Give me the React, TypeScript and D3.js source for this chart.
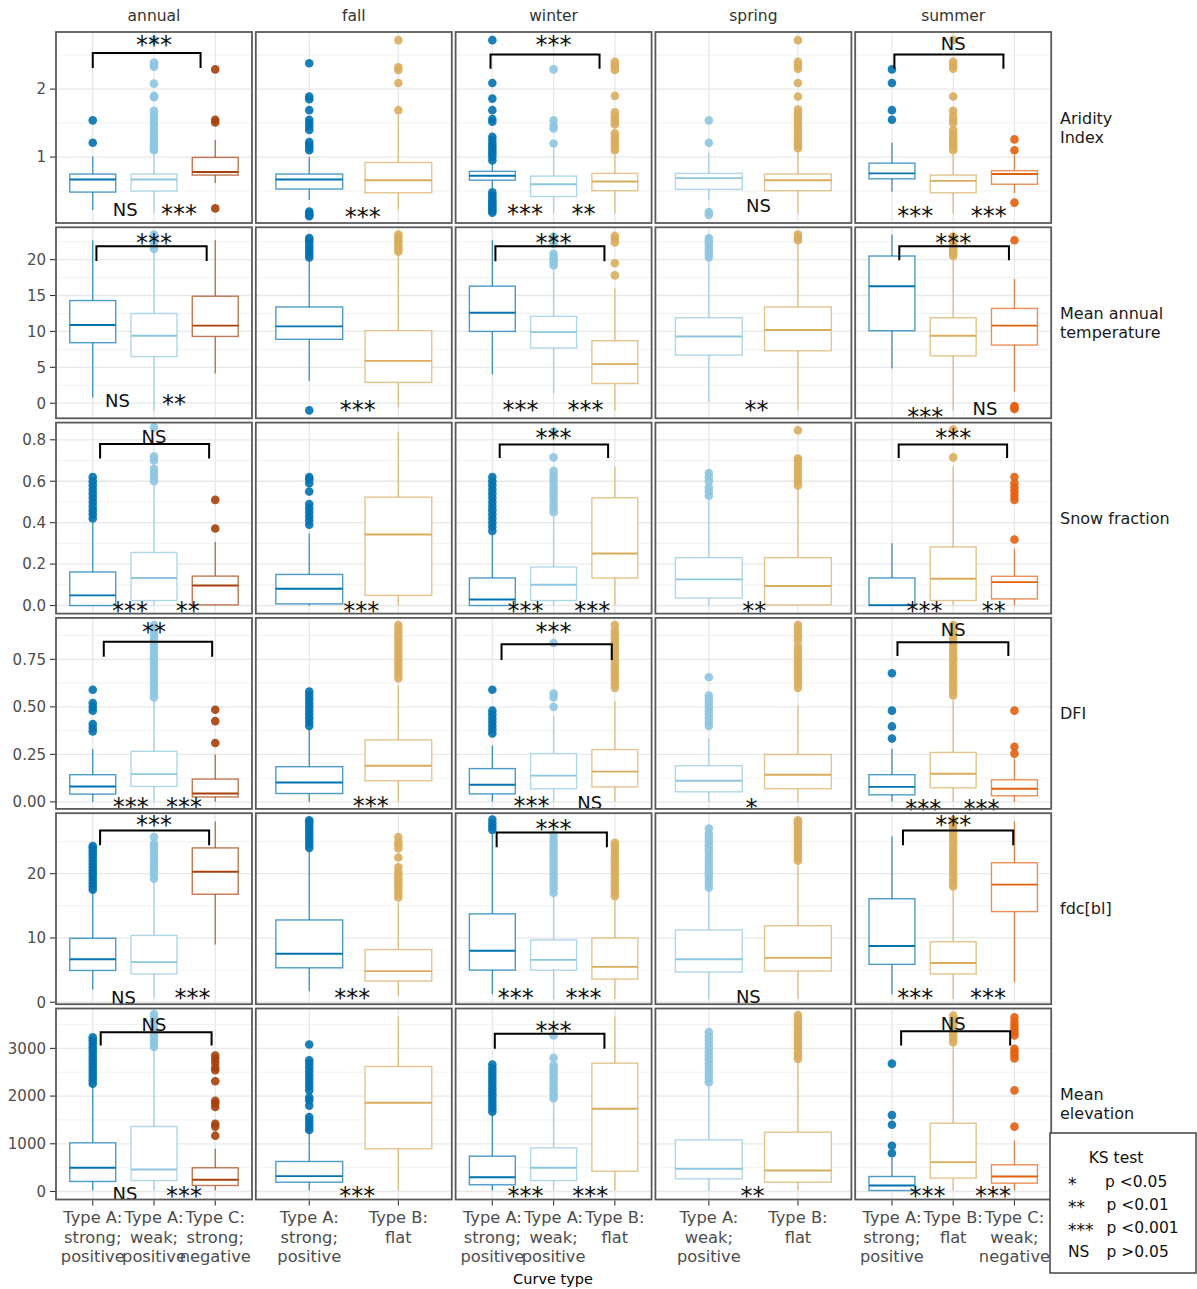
import * as d3 from "d3";
import { useEffect, useRef } from "react";

// facets
const seasons = ["annual", "fall", "winter", "spring", "summer"];
const variables = [["Aridity", "Index"], ["Mean annual", "temperature"], ["Snow fraction"], ["DFI"], ["fdc[bl]"], ["Mean", "elevation"]];

const seasonTypes = [
  ["A_strong", "A_weak", "C_strong"],
  ["A_strong", "B_flat"],
  ["A_strong", "A_weak", "B_flat"],
  ["A_weak", "B_flat"],
  ["A_strong", "B_flat", "C_weak"],
];

const typeLabels: Record<string, string[]> = {
  A_strong: ["Type A:", "strong;", "positive"],
  A_weak: ["Type A:", "weak;", "positive"],
  B_flat: ["Type B:", "flat"],
  C_strong: ["Type C:", "strong;", "negative"],
  C_weak: ["Type C:", "weak;", "negative"],
};

const typeColors: Record<string, string> = {
  A_strong: "#0072B2",
  A_weak: "#8EC6E0",
  B_flat: "#D9AD5C",
  C_strong: "#A6400C",
  C_weak: "#E3600E",
};

// y axes per row
const yDomains = [[0.03, 2.84], [-2.1, 24.5], [-0.039, 0.883], [-0.037, 0.968], [-0.3, 29.4], [-168, 3836]];
const yTicks = [[1, 2], [0, 5, 10, 15, 20], [0, 0.2, 0.4, 0.6, 0.8], [0, 0.25, 0.5, 0.75], [0, 10, 20], [0, 1000, 2000, 3000]];
const yMinor = [[0.5, 1.5, 2.5], [2.5, 7.5, 12.5, 17.5, 22.5], [0.1, 0.3, 0.5, 0.7], [0.125, 0.375, 0.625, 0.875], [5, 15, 25], [500, 1500, 2500, 3500]];
const yFormats = ["d", "d", ".1f", ".2f", "d", "d"];

// box stats: [lower whisker, q1, median, q3, upper whisker], per season, per type
const aridityStats = [
  [[0.22, 0.485, 0.67, 0.75, 1.01], [0.18, 0.5, 0.67, 0.75, 1.08], [0.62, 0.735, 0.78, 0.995, 1.25]],
  [[0.37, 0.53, 0.67, 0.75, 1.0], [0.22, 0.475, 0.66, 0.92, 1.62]],
  [[0.54, 0.66, 0.725, 0.79, 0.9], [0.18, 0.42, 0.6, 0.72, 1.13], [0.17, 0.505, 0.64, 0.76, 1.03]],
  [[0.37, 0.525, 0.69, 0.76, 1.06], [0.17, 0.505, 0.66, 0.75, 1.1]],
  [[0.49, 0.68, 0.76, 0.91, 1.21], [0.17, 0.475, 0.65, 0.735, 1.05], [0.47, 0.6, 0.75, 0.8, 1.03]],
];
const aridityOutliers = [
  [[1.21, 1.54], [1.1, 1.13, 1.17, 1.2, 1.24, 1.28, 1.32, 1.37, 1.42, 1.47, 1.52, 1.57, 1.62, 1.68, 1.88, 1.9, 2.08, 2.33, 2.36, 2.39, 2.72], [0.245, 1.51, 1.55, 2.29]],
  [[0.13, 0.15, 0.17, 0.2, 1.1, 1.14, 1.18, 1.22, 1.4, 1.45, 1.5, 1.55, 1.69, 1.85, 1.89, 2.38], [1.69, 2.09, 2.28, 2.32, 2.72]],
  [[0.18, 0.21, 0.24, 0.27, 0.3, 0.33, 0.36, 0.4, 0.44, 0.48, 0.95, 1.0, 1.04, 1.08, 1.12, 1.16, 1.2, 1.25, 1.3, 1.52, 1.56, 1.69, 1.86, 2.09, 2.72], [1.2, 1.42, 1.46, 1.54, 2.29], [1.1, 1.15, 1.2, 1.25, 1.3, 1.35, 1.48, 1.52, 1.56, 1.6, 1.66, 1.9, 2.28, 2.32, 2.36, 2.4]],
  [[0.15, 0.19, 1.21, 1.54], [1.13, 1.17, 1.21, 1.26, 1.3, 1.34, 1.4, 1.45, 1.5, 1.55, 1.6, 1.65, 1.7, 1.89, 2.09, 2.3, 2.35, 2.4, 2.72]],
  [[1.55, 1.69, 2.09, 2.29], [1.1, 1.14, 1.18, 1.22, 1.26, 1.3, 1.35, 1.4, 1.5, 1.55, 1.6, 1.68, 1.89, 2.3, 2.35, 2.4, 2.72], [0.33, 1.1, 1.26]],
];

const tempStats = [
  [[0.8, 8.43, 10.9, 14.3, 22.7], [-1.0, 6.5, 9.4, 12.5, 21.2], [4.15, 9.3, 10.8, 14.9, 22.7]],
  [[3.1, 8.9, 10.7, 13.4, 20.1], [-0.5, 2.9, 5.9, 10.1, 20.9]],
  [[4.0, 10.0, 12.6, 16.3, 22.7], [1.35, 7.7, 9.9, 12.1, 18.6], [-1.0, 2.75, 5.45, 8.7, 16.0]],
  [[0.2, 6.7, 9.3, 11.9, 20.0], [-1.0, 7.3, 10.2, 13.4, 22.4]],
  [[4.85, 10.1, 16.3, 20.5, 23.5], [-1.0, 6.6, 9.4, 11.9, 20.2], [1.6, 8.1, 10.8, 13.2, 17.3]],
];
const tempOutliers = [
  [[], [21.5, 22, 22.5, 23, 23.5], []],
  [[-1.0, 20.3, 20.7, 21.1, 21.5, 21.9, 22.3, 22.7, 23.0], [21.1, 21.5, 21.9, 22.3, 22.7, 23.1, 23.5]],
  [[], [19.2, 19.6, 20.0, 20.4, 20.8, 22.2, 22.7, 23.2], [17.8, 19.5, 22.4, 22.9, 23.3]],
  [[20.3, 20.7, 21.1, 21.5, 21.9, 22.3, 22.7, 23.0], [22.7, 23.1, 23.5]],
  [[], [20.5, 20.9, 21.3, 21.7, 22.1, 22.5, 22.9, 23.2], [-0.4, -0.6, -0.8, 22.7]],
];

const snowStats = [
  [[0, 0, 0.049, 0.162, 0.4], [0, 0.024, 0.133, 0.256, 0.59], [0, 0.003, 0.097, 0.142, 0.307]],
  [[0, 0.008, 0.081, 0.15, 0.348], [0, 0.049, 0.343, 0.523, 0.84]],
  [[0, 0, 0.029, 0.133, 0.34], [0, 0.024, 0.1, 0.186, 0.43], [0, 0.133, 0.251, 0.52, 0.67]],
  [[0, 0.036, 0.126, 0.231, 0.513], [0, 0.003, 0.094, 0.231, 0.566]],
  [[0, 0, 0.002, 0.133, 0.3], [0, 0.024, 0.129, 0.283, 0.671], [0, 0.032, 0.113, 0.141, 0.275]],
];
const snowOutliers = [
  [[0.42, 0.44, 0.46, 0.48, 0.5, 0.52, 0.54, 0.56, 0.58, 0.6, 0.62], [0.6, 0.62, 0.64, 0.66, 0.7, 0.72, 0.86], [0.372, 0.51]],
  [[0.39, 0.41, 0.43, 0.45, 0.47, 0.49, 0.55, 0.59, 0.61, 0.62], []],
  [[0.36, 0.38, 0.4, 0.42, 0.44, 0.46, 0.48, 0.5, 0.52, 0.54, 0.56, 0.58, 0.6, 0.62], [0.45, 0.47, 0.49, 0.51, 0.53, 0.55, 0.57, 0.59, 0.61, 0.63, 0.65, 0.715, 0.84], []],
  [[0.53, 0.55, 0.57, 0.6, 0.62, 0.64], [0.58, 0.6, 0.62, 0.64, 0.66, 0.68, 0.7, 0.71, 0.846]],
  [[], [0.715, 0.85], [0.319, 0.51, 0.53, 0.55, 0.57, 0.59, 0.62]],
];

const dfiStats = [
  [[0, 0.041, 0.081, 0.143, 0.278], [0, 0.081, 0.146, 0.266, 0.54], [0, 0.026, 0.044, 0.12, 0.249]],
  [[0, 0.044, 0.102, 0.185, 0.385], [0, 0.111, 0.19, 0.326, 0.614]],
  [[0, 0.042, 0.09, 0.175, 0.296], [0, 0.069, 0.138, 0.254, 0.45], [0, 0.079, 0.159, 0.275, 0.53]],
  [[0, 0.053, 0.111, 0.19, 0.333], [0, 0.069, 0.143, 0.249, 0.508]],
  [[0, 0.037, 0.079, 0.143, 0.28], [0, 0.074, 0.148, 0.26, 0.534], [0, 0.032, 0.069, 0.116, 0.228]],
];
const dfiOutliers = [
  [[0.37, 0.39, 0.41, 0.48, 0.5, 0.52, 0.59], [0.55, 0.57, 0.59, 0.61, 0.63, 0.65, 0.67, 0.69, 0.71, 0.73, 0.75, 0.77, 0.79, 0.81, 0.83, 0.85, 0.87, 0.89, 0.91, 0.93], [0.31, 0.425, 0.485]],
  [[0.4, 0.42, 0.44, 0.46, 0.48, 0.5, 0.52, 0.54, 0.56, 0.58], [0.65, 0.67, 0.69, 0.71, 0.73, 0.75, 0.77, 0.79, 0.81, 0.83, 0.85, 0.87, 0.89, 0.91, 0.93]],
  [[0.36, 0.38, 0.4, 0.42, 0.44, 0.46, 0.48, 0.59], [0.5, 0.55, 0.57, 0.836], [0.6, 0.62, 0.64, 0.66, 0.68, 0.7, 0.72, 0.74, 0.76, 0.78, 0.8, 0.82, 0.84, 0.86, 0.88, 0.9, 0.93]],
  [[0.4, 0.42, 0.44, 0.46, 0.48, 0.5, 0.52, 0.54, 0.56, 0.656], [0.6, 0.62, 0.64, 0.66, 0.68, 0.7, 0.72, 0.74, 0.76, 0.78, 0.8, 0.82, 0.85, 0.87, 0.89, 0.91, 0.93]],
  [[0.333, 0.397, 0.48, 0.677], [0.56, 0.58, 0.6, 0.62, 0.64, 0.66, 0.68, 0.7, 0.72, 0.74, 0.76, 0.78, 0.8, 0.82, 0.84, 0.86, 0.88, 0.9, 0.93], [0.254, 0.29, 0.48]],
];

const fdcStats = [
  [[2.0, 4.95, 6.7, 9.95, 17.3], [0.7, 4.4, 6.25, 10.4, 18.9], [9.0, 16.8, 20.3, 24.0, 28.1]],
  [[1.7, 5.36, 7.55, 12.8, 23.6], [0.94, 3.3, 4.85, 8.2, 15.5]],
  [[1.25, 5.0, 8.0, 13.75, 26.2], [0.5, 5.0, 6.6, 9.7, 16.6], [0.5, 3.6, 5.5, 10.0, 15.8]],
  [[0.5, 4.7, 6.7, 11.25, 17.3], [0.5, 4.85, 6.9, 11.9, 21.25]],
  [[1.25, 5.9, 8.75, 16.1, 25.8], [0.5, 4.4, 6.1, 9.4, 17.3], [3.1, 14.1, 18.3, 21.7, 28.1]],
];
const fdcOutliers = [
  [[17.5, 18, 18.5, 19, 19.5, 20, 20.5, 21, 21.5, 22, 22.5, 23, 23.5, 24, 24.3], [19.2, 19.7, 20.2, 20.7, 21.2, 21.7, 22.2, 22.7, 23.2, 23.7, 24.2, 24.7, 25.7], []],
  [[24, 24.5, 25, 25.5, 26, 26.5, 27, 27.5, 28, 28.3], [16.3, 16.8, 17.3, 17.8, 18.3, 18.8, 19.3, 19.8, 20.3, 21, 22.5, 23.9, 24.4, 24.9, 25.7]],
  [[26.8, 27.3, 27.8, 28.4], [17, 17.6, 18.2, 18.8, 19.4, 20, 20.6, 21.2, 21.8, 22.4, 23, 23.6, 24.2, 24.8, 25.4, 26], [16.5, 17.1, 17.7, 18.3, 18.9, 19.5, 20.1, 20.7, 21.3, 21.9, 22.5, 23.1, 23.7, 24.3, 24.8]],
  [[17.8, 18.4, 19, 19.6, 20.2, 20.8, 21.4, 22, 22.6, 23.2, 23.8, 24.4, 25, 25.6, 26.2, 27], [22, 22.5, 23, 23.5, 24, 24.5, 25, 25.5, 26, 26.5, 27, 27.5, 28, 28.3]],
  [[], [18, 18.6, 19.2, 19.8, 20.4, 21, 21.6, 22.2, 22.8, 23.4, 24, 24.6, 25.2, 25.8, 26.4, 27, 27.6, 28.3], []],
];

const elevStats = [
  [[20, 210, 497, 1020, 2220], [20, 230, 461, 1362, 3025], [20, 126, 245, 497, 895]],
  [[20, 195, 321, 629, 1279], [20, 895, 1859, 2620, 3668]],
  [[20, 140, 300, 740, 1628], [20, 230, 497, 916, 1907], [20, 425, 1733, 2690, 3668]],
  [[20, 266, 476, 1083, 2222], [20, 195, 440, 1243, 2746]],
  [[20, 20, 126, 314, 706], [20, 280, 615, 1432, 3096], [20, 175, 314, 560, 1069]],
];
const elevOutliers = [
  [[2260, 2330, 2400, 2470, 2540, 2610, 2680, 2750, 2820, 2890, 2960, 3030, 3100, 3170, 3230], [3030, 3100, 3170, 3240, 3310, 3380, 3450, 3520, 3590, 3660, 3720], [1170, 1360, 1420, 1770, 1850, 1900, 2310, 2540, 2600, 2700, 2780, 2850]],
  [[1290, 1350, 1420, 1490, 1560, 1800, 1910, 1970, 2120, 2200, 2280, 2360, 2440, 2520, 2600, 2680, 2750, 3080], []],
  [[1670, 1740, 1810, 1880, 1950, 2020, 2090, 2160, 2230, 2300, 2370, 2440, 2510, 2580, 2660], [1950, 2020, 2090, 2160, 2230, 2300, 2370, 2440, 2510, 2580, 2650, 2800, 3270], []],
  [[2290, 2370, 2450, 2530, 2610, 2690, 2770, 2850, 2930, 3010, 3090, 3170, 3250, 3340], [2780, 2850, 2920, 2990, 3060, 3130, 3200, 3270, 3340, 3410, 3480, 3550, 3620, 3700]],
  [[800, 960, 1400, 1600, 2680], [3130, 3200, 3270, 3340, 3410, 3480, 3550, 3620, 3690], [1360, 2120, 2790, 2860, 2930, 2990, 3270, 3340, 3410, 3480, 3560, 3650]],
];

// KS-test brackets (type 1 vs type 3): [x from, x to, y top, y leg end, label, label y]
const aridityBrackets = [[1.0, 2.76, 2.53, 2.31, "***", 2.72], null, [0.97, 2.75, 2.51, 2.3, "***", 2.72], null, [1.04, 2.82, 2.51, 2.3, "NS", 2.67]];
const tempBrackets = [[1.06, 2.86, 21.86, 19.8, "***", 23.0], null, [1.05, 2.83, 21.86, 19.76, "***", 23.0], null, [1.12, 2.91, 21.86, 19.9, "***", 23.0]];
const snowBrackets = [[1.12, 2.9, 0.78, 0.71, "NS", 0.817], null, [1.12, 2.89, 0.777, 0.712, "***", 0.833], null, [1.11, 2.88, 0.777, 0.712, "***", 0.833]];
const dfiBrackets = [[1.18, 2.95, 0.843, 0.763, "**", 0.922], null, [1.15, 2.95, 0.83, 0.746, "***", 0.92], null, [1.09, 2.9, 0.84, 0.767, "NS", 0.905]];
const fdcBrackets = [[1.12, 2.9, 26.7, 24.4, "***", 28.3], null, [1.07, 2.87, 26.4, 24.1, "***", 27.7], null, [1.18, 2.98, 26.7, 24.4, "***", 28.3]];
const elevBrackets = [[1.13, 2.94, 3339, 3060, "NS", 3500], null, [1.04, 2.83, 3305, 2991, "***", 3479], null, [1.15, 2.93, 3360, 3060, "NS", 3515]];

// KS-test labels between neighbouring types: [label, x, y]
const ariditySig = [
  [["NS", 1.53, 0.235], ["***", 2.41, 0.235]], [["***", 1.6, 0.19]], [["***", 1.535, 0.24], ["**", 2.49, 0.24]], [["NS", 1.556, 0.29]], [["***", 1.38, 0.21], ["***", 2.58, 0.21]],
];
const tempSig = [
  [["NS", 1.404, 0.42], ["**", 2.327, 0.56]], [["***", 1.545, -0.28]], [["***", 1.458, -0.28], ["***", 2.52, -0.28]], [["**", 1.534, -0.28]], [["***", 1.543, -1.22], ["NS", 2.52, -0.75]],
];
const snowSig = [
  [["***", 1.61, 0], ["**", 2.55, 0]], [["***", 1.584, 0]], [["***", 1.54, 0], ["***", 2.63, 0]], [["**", 1.51, 0]], [["***", 1.53, 0], ["**", 2.66, 0]],
];
const dfiSig = [
  [["***", 1.62, 0], ["***", 2.49, 0]], [["***", 1.69, 0.005]], [["***", 1.64, 0.005], ["NS", 2.59, -0.005]], [["*", 1.48, -0.005]], [["***", 1.51, -0.01], ["***", 2.46, -0.01]],
];
const fdcSig = [
  [["NS", 1.5, 0.78], ["***", 2.63, 1.45]], [["***", 1.483, 1.45]], [["***", 1.38, 1.4], ["***", 2.49, 1.4]], [["NS", 1.443, 0.94]], [["***", 1.38, 1.4], ["***", 2.57, 1.4]],
];
const elevSig = [
  [["NS", 1.527, -48], ["***", 2.49, 6]], [["***", 1.54, 6]], [["***", 1.54, 6], ["***", 2.6, 6]], [["**", 1.49, 6]], [["***", 1.58, 6], ["***", 2.65, 6]],
];

const legendSymbols = ["*", "**", "***", "NS"];
const legendTexts = ["p <0.05", "p <0.01", "p <0.001", "p >0.05"];

const rows = [
  { stats: aridityStats, out: aridityOutliers, brackets: aridityBrackets, sig: ariditySig },
  { stats: tempStats, out: tempOutliers, brackets: tempBrackets, sig: tempSig },
  { stats: snowStats, out: snowOutliers, brackets: snowBrackets, sig: snowSig },
  { stats: dfiStats, out: dfiOutliers, brackets: dfiBrackets, sig: dfiSig },
  { stats: fdcStats, out: fdcOutliers, brackets: fdcBrackets, sig: fdcSig },
  { stats: elevStats, out: elevOutliers, brackets: elevBrackets, sig: elevSig },
];

const FONT = "'DejaVu Sans', sans-serif";

export default function App() {
  const ref = useRef<SVGSVGElement>(null);

  useEffect(() => {
    const svg = d3.select(ref.current);
    svg.selectAll("*").remove();
    const defs = svg.append("defs");

    const x0 = 56, dx = 199.8, pw = 196;
    const y0 = 32, dy = 195.3, ph = 191;

    // strip labels
    seasons.forEach((s, c) => {
      svg.append("text").attr("x", x0 + c * dx + pw / 2).attr("y", 21)
        .attr("text-anchor", "middle").attr("font-family", FONT).attr("font-size", 15.5)
        .attr("fill", "#333").text(s);
    });

    const sigText = (g: any, label: string, cx: number, cy: number) => {
      const star = label.startsWith("*");
      g.append("text").attr("x", cx).attr("y", star ? cy + 13.2 : cy + 6.5)
        .attr("text-anchor", "middle").attr("font-family", FONT)
        .attr("font-size", star ? 24 : 18)
        .attr("fill", "#111").text(label);
    };

    rows.forEach((row, r) => {
      const top = y0 + r * dy;
      const y = d3.scaleLinear().domain(yDomains[r]).range([top + ph, top]);
      const fmt = d3.format(yFormats[r]);

      // y axis on the left
      yTicks[r].forEach((t) => {
        svg.append("line").attr("x1", 50).attr("x2", 55.5).attr("y1", y(t)).attr("y2", y(t))
          .attr("stroke", "#333").attr("stroke-width", 1.1);
        svg.append("text").attr("x", 46).attr("y", y(t) + 5.3).attr("text-anchor", "end")
          .attr("font-family", FONT).attr("font-size", 15).attr("fill", "#4d4d4d").text(fmt(t));
      });

      // row label
      const lines = variables[r];
      const baseY = top + ph / 2 - (lines.length - 1) * 9.5 + 5.5;
      lines.forEach((ln, i) => {
        svg.append("text").attr("x", 1060).attr("y", baseY + i * 19)
          .attr("font-family", FONT).attr("font-size", 16).attr("fill", "#1a1a1a").text(ln);
      });

      seasons.forEach((_, c) => {
        const left = x0 + c * dx;
        const types = seasonTypes[c];
        const xPos = d3.scalePoint<string>().domain(types).range([left, left + pw]).padding(0.6);
        const xk = d3.scaleLinear().domain([1, types.length]).range([xPos(types[0])!, xPos(types[types.length - 1])!]);
        const bw = xPos.step() * 0.75;

        const clipId = `clip-${r}-${c}`;
        defs.append("clipPath").attr("id", clipId).append("rect")
          .attr("x", left).attr("y", top).attr("width", pw).attr("height", ph);

        const g = svg.append("g");
        g.append("rect").attr("x", left).attr("y", top).attr("width", pw).attr("height", ph).attr("fill", "#fff");

        const grid = g.append("g").attr("clip-path", `url(#${clipId})`);
        yMinor[r].forEach((t) => {
          grid.append("line").attr("x1", left).attr("x2", left + pw).attr("y1", y(t)).attr("y2", y(t))
            .attr("stroke", "#EFEFEF").attr("stroke-width", 0.8);
        });
        yTicks[r].forEach((t) => {
          grid.append("line").attr("x1", left).attr("x2", left + pw).attr("y1", y(t)).attr("y2", y(t))
            .attr("stroke", "#E8E8E8").attr("stroke-width", 1.3);
        });
        types.forEach((t) => {
          grid.append("line").attr("x1", xPos(t)!).attr("x2", xPos(t)!).attr("y1", top).attr("y2", top + ph)
            .attr("stroke", "#E8E8E8").attr("stroke-width", 1.3);
        });

        const plot = g.append("g").attr("clip-path", `url(#${clipId})`);
        types.forEach((t, i) => {
          const [lo, q1, med, q3, hi] = row.stats[c][i];
          const col = typeColors[t];
          const cx = xPos(t)!;
          plot.selectAll(null).data(row.out[c][i]).join("circle")
            .attr("cx", cx).attr("cy", (d: number) => y(d)).attr("r", 4.3)
            .attr("fill", col).attr("fill-opacity", 0.9);
          plot.append("line").attr("x1", cx).attr("x2", cx).attr("y1", y(hi)).attr("y2", y(q3))
            .attr("stroke", col).attr("stroke-opacity", 0.75).attr("stroke-width", 1.3);
          plot.append("line").attr("x1", cx).attr("x2", cx).attr("y1", y(q1)).attr("y2", y(lo))
            .attr("stroke", col).attr("stroke-opacity", 0.75).attr("stroke-width", 1.3);
          plot.append("rect").attr("x", cx - bw / 2).attr("y", y(q3)).attr("width", bw)
            .attr("height", Math.max(0, y(q1) - y(q3))).attr("fill", "#fff")
            .attr("stroke", col).attr("stroke-opacity", 0.7).attr("stroke-width", 1.4);
          plot.append("line").attr("x1", cx - bw / 2).attr("x2", cx + bw / 2).attr("y1", y(med)).attr("y2", y(med))
            .attr("stroke", col).attr("stroke-width", 1.9);
        });

        // significance annotations
        const br = row.brackets[c] as any[] | null;
        if (br) {
          const [k1, k2, yt, yl, label, ly] = br;
          g.append("path")
            .attr("d", `M${xk(k1)},${y(yl)}V${y(yt)}H${xk(k2)}V${y(yl)}`)
            .attr("fill", "none").attr("stroke", "#000").attr("stroke-width", 2);
          sigText(g, label, xk(2), y(ly));
        }
        (row.sig[c] as any[]).forEach(([label, k, v]) => sigText(g, label, xk(k), y(v)));

        g.append("rect").attr("x", left).attr("y", top).attr("width", pw).attr("height", ph)
          .attr("fill", "none").attr("stroke", "#5a5a5a").attr("stroke-width", 1.8);

        // bottom axis
        if (r === rows.length - 1) {
          types.forEach((t) => {
            const cx = xPos(t)!;
            svg.append("line").attr("x1", cx).attr("x2", cx).attr("y1", top + ph + 1).attr("y2", top + ph + 6)
              .attr("stroke", "#333").attr("stroke-width", 1.1);
            typeLabels[t].forEach((ln, i) => {
              svg.append("text").attr("x", cx).attr("y", 1223 + i * 19.5).attr("text-anchor", "middle")
                .attr("font-family", FONT).attr("font-size", 16.3).attr("fill", "#4d4d4d").text(ln);
            });
          });
        }
      });
    });

    svg.append("text").attr("x", 553).attr("y", 1284).attr("text-anchor", "middle")
      .attr("font-family", FONT).attr("font-size", 14.5).attr("fill", "#000").text("Curve type");

    // KS test legend
    const lg = svg.append("g");
    lg.append("rect").attr("x", 1050).attr("y", 1133).attr("width", 146).attr("height", 140)
      .attr("fill", "#fff").attr("stroke", "#444").attr("stroke-width", 1.5);
    lg.append("text").attr("x", 1116).attr("y", 1162.5).attr("text-anchor", "middle")
      .attr("font-family", FONT).attr("font-size", 15.5).attr("fill", "#111").text("KS test");
    legendSymbols.forEach((s, i) => {
      const by = 1186.5 + i * 23.4;
      const star = s.startsWith("*");
      lg.append("text").attr("x", 1068).attr("y", star ? by + 3 : by)
        .attr("font-family", FONT).attr("font-size", star ? 17 : 15.5).attr("fill", "#111").text(s);
      lg.append("text").attr("x", i === 0 ? 1105 : 1106.5).attr("y", by)
        .attr("font-family", FONT).attr("font-size", 15.5).attr("fill", "#111").text(legendTexts[i]);
    });
  }, []);

  return (
    <svg ref={ref} width={1197} height={1289}
      style={{ position: "absolute", left: 0, top: 0, background: "#fff" }} />
  );
}
